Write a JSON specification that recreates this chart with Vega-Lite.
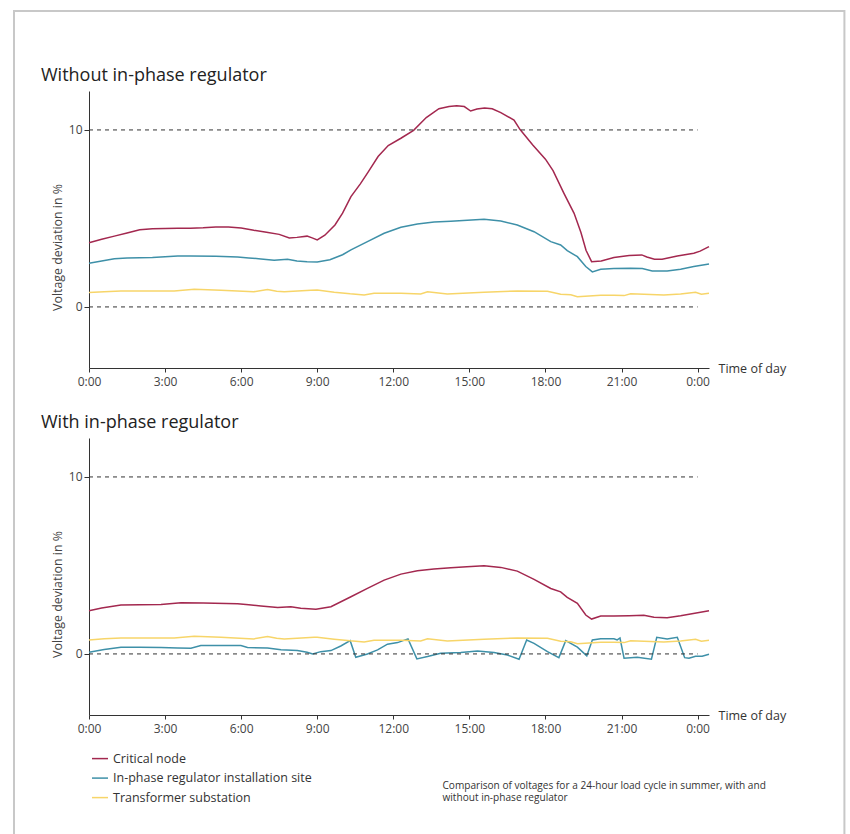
{
  "$schema": "https://vega.github.io/schema/vega-lite/v6.json",
  "padding": {"left": 12, "top": 10, "right": 0, "bottom": 0},
  "background": "white",
  "config": {
    "view": {"stroke": null},
    "font": "Open Sans",
    "axis": {"grid": false, "domainColor": "#333", "tickColor": "#333", "labelColor": "#444", "labelFontSize": 12, "titleFontWeight": "normal"}
  },
  "datasets": {
    "refs": [{"v": 0}, {"v": 10}],
    "volt": [
      {"p":"without","s":"Critical node","h":0,"v":3.63},
      {"p":"without","s":"Critical node","h":0.5,"v":3.82},
      {"p":"without","s":"Critical node","h":1.0,"v":4.0},
      {"p":"without","s":"Critical node","h":1.5,"v":4.18},
      {"p":"without","s":"Critical node","h":2.0,"v":4.36},
      {"p":"without","s":"Critical node","h":2.5,"v":4.42},
      {"p":"without","s":"Critical node","h":3.0,"v":4.43},
      {"p":"without","s":"Critical node","h":3.5,"v":4.44},
      {"p":"without","s":"Critical node","h":4.0,"v":4.44},
      {"p":"without","s":"Critical node","h":4.5,"v":4.47},
      {"p":"without","s":"Critical node","h":5.0,"v":4.52},
      {"p":"without","s":"Critical node","h":5.5,"v":4.52},
      {"p":"without","s":"Critical node","h":6.0,"v":4.46},
      {"p":"without","s":"Critical node","h":6.5,"v":4.33},
      {"p":"without","s":"Critical node","h":7.0,"v":4.22},
      {"p":"without","s":"Critical node","h":7.5,"v":4.1},
      {"p":"without","s":"Critical node","h":7.9,"v":3.9},
      {"p":"without","s":"Critical node","h":8.2,"v":3.93},
      {"p":"without","s":"Critical node","h":8.6,"v":4.0},
      {"p":"without","s":"Critical node","h":8.8,"v":3.9},
      {"p":"without","s":"Critical node","h":9.0,"v":3.79},
      {"p":"without","s":"Critical node","h":9.3,"v":4.05},
      {"p":"without","s":"Critical node","h":9.7,"v":4.63},
      {"p":"without","s":"Critical node","h":10.0,"v":5.3},
      {"p":"without","s":"Critical node","h":10.33,"v":6.23},
      {"p":"without","s":"Critical node","h":10.7,"v":6.95},
      {"p":"without","s":"Critical node","h":11.0,"v":7.6},
      {"p":"without","s":"Critical node","h":11.4,"v":8.5},
      {"p":"without","s":"Critical node","h":11.8,"v":9.12},
      {"p":"without","s":"Critical node","h":12.3,"v":9.53},
      {"p":"without","s":"Critical node","h":12.8,"v":9.98},
      {"p":"without","s":"Critical node","h":13.3,"v":10.7},
      {"p":"without","s":"Critical node","h":13.8,"v":11.2},
      {"p":"without","s":"Critical node","h":14.2,"v":11.33},
      {"p":"without","s":"Critical node","h":14.5,"v":11.36},
      {"p":"without","s":"Critical node","h":14.8,"v":11.32},
      {"p":"without","s":"Critical node","h":15.05,"v":11.07},
      {"p":"without","s":"Critical node","h":15.3,"v":11.18},
      {"p":"without","s":"Critical node","h":15.6,"v":11.24},
      {"p":"without","s":"Critical node","h":15.9,"v":11.2},
      {"p":"without","s":"Critical node","h":16.24,"v":10.98},
      {"p":"without","s":"Critical node","h":16.76,"v":10.56},
      {"p":"without","s":"Critical node","h":17.0,"v":10.02},
      {"p":"without","s":"Critical node","h":17.5,"v":9.15},
      {"p":"without","s":"Critical node","h":18.0,"v":8.35},
      {"p":"without","s":"Critical node","h":18.3,"v":7.7},
      {"p":"without","s":"Critical node","h":18.73,"v":6.42},
      {"p":"without","s":"Critical node","h":19.13,"v":5.29},
      {"p":"without","s":"Critical node","h":19.4,"v":4.2},
      {"p":"without","s":"Critical node","h":19.6,"v":3.2},
      {"p":"without","s":"Critical node","h":19.82,"v":2.56},
      {"p":"without","s":"Critical node","h":20.2,"v":2.6},
      {"p":"without","s":"Critical node","h":20.7,"v":2.79},
      {"p":"without","s":"Critical node","h":21.3,"v":2.9},
      {"p":"without","s":"Critical node","h":21.8,"v":2.94},
      {"p":"without","s":"Critical node","h":22.0,"v":2.82},
      {"p":"without","s":"Critical node","h":22.3,"v":2.69},
      {"p":"without","s":"Critical node","h":22.6,"v":2.69},
      {"p":"without","s":"Critical node","h":23.2,"v":2.88},
      {"p":"without","s":"Critical node","h":23.85,"v":3.03},
      {"p":"without","s":"Critical node","h":24.1,"v":3.15},
      {"p":"without","s":"Critical node","h":24.45,"v":3.41},

      {"p":"without","s":"In-phase regulator installation site","h":0,"v":2.47},
      {"p":"without","s":"In-phase regulator installation site","h":0.5,"v":2.6},
      {"p":"without","s":"In-phase regulator installation site","h":1.0,"v":2.72},
      {"p":"without","s":"In-phase regulator installation site","h":1.5,"v":2.77},
      {"p":"without","s":"In-phase regulator installation site","h":2.0,"v":2.78},
      {"p":"without","s":"In-phase regulator installation site","h":2.5,"v":2.79},
      {"p":"without","s":"In-phase regulator installation site","h":3.0,"v":2.83},
      {"p":"without","s":"In-phase regulator installation site","h":3.5,"v":2.88},
      {"p":"without","s":"In-phase regulator installation site","h":4.0,"v":2.88},
      {"p":"without","s":"In-phase regulator installation site","h":5.0,"v":2.86},
      {"p":"without","s":"In-phase regulator installation site","h":5.86,"v":2.82},
      {"p":"without","s":"In-phase regulator installation site","h":6.3,"v":2.77},
      {"p":"without","s":"In-phase regulator installation site","h":6.78,"v":2.71},
      {"p":"without","s":"In-phase regulator installation site","h":7.3,"v":2.64},
      {"p":"without","s":"In-phase regulator installation site","h":7.83,"v":2.69},
      {"p":"without","s":"In-phase regulator installation site","h":8.2,"v":2.6},
      {"p":"without","s":"In-phase regulator installation site","h":8.6,"v":2.55},
      {"p":"without","s":"In-phase regulator installation site","h":9.0,"v":2.54},
      {"p":"without","s":"In-phase regulator installation site","h":9.5,"v":2.67},
      {"p":"without","s":"In-phase regulator installation site","h":10.0,"v":2.95},
      {"p":"without","s":"In-phase regulator installation site","h":10.33,"v":3.22},
      {"p":"without","s":"In-phase regulator installation site","h":10.98,"v":3.69},
      {"p":"without","s":"In-phase regulator installation site","h":11.64,"v":4.16},
      {"p":"without","s":"In-phase regulator installation site","h":12.3,"v":4.5},
      {"p":"without","s":"In-phase regulator installation site","h":12.95,"v":4.69},
      {"p":"without","s":"In-phase regulator installation site","h":13.61,"v":4.8},
      {"p":"without","s":"In-phase regulator installation site","h":14.27,"v":4.84},
      {"p":"without","s":"In-phase regulator installation site","h":14.92,"v":4.9},
      {"p":"without","s":"In-phase regulator installation site","h":15.58,"v":4.95},
      {"p":"without","s":"In-phase regulator installation site","h":16.24,"v":4.86},
      {"p":"without","s":"In-phase regulator installation site","h":16.89,"v":4.63},
      {"p":"without","s":"In-phase regulator installation site","h":17.55,"v":4.25},
      {"p":"without","s":"In-phase regulator installation site","h":18.21,"v":3.69},
      {"p":"without","s":"In-phase regulator installation site","h":18.6,"v":3.5},
      {"p":"without","s":"In-phase regulator installation site","h":18.86,"v":3.18},
      {"p":"without","s":"In-phase regulator installation site","h":19.26,"v":2.84},
      {"p":"without","s":"In-phase regulator installation site","h":19.59,"v":2.28},
      {"p":"without","s":"In-phase regulator installation site","h":19.85,"v":1.98},
      {"p":"without","s":"In-phase regulator installation site","h":20.18,"v":2.13},
      {"p":"without","s":"In-phase regulator installation site","h":20.7,"v":2.17},
      {"p":"without","s":"In-phase regulator installation site","h":21.36,"v":2.19},
      {"p":"without","s":"In-phase regulator installation site","h":21.82,"v":2.17},
      {"p":"without","s":"In-phase regulator installation site","h":22.21,"v":2.03},
      {"p":"without","s":"In-phase regulator installation site","h":22.8,"v":2.03},
      {"p":"without","s":"In-phase regulator installation site","h":23.33,"v":2.13},
      {"p":"without","s":"In-phase regulator installation site","h":23.85,"v":2.28},
      {"p":"without","s":"In-phase regulator installation site","h":24.45,"v":2.43},

      {"p":"without","s":"Transformer substation","h":0,"v":0.81},
      {"p":"without","s":"Transformer substation","h":0.6,"v":0.86},
      {"p":"without","s":"Transformer substation","h":1.26,"v":0.9},
      {"p":"without","s":"Transformer substation","h":2.5,"v":0.9},
      {"p":"without","s":"Transformer substation","h":3.36,"v":0.9},
      {"p":"without","s":"Transformer substation","h":4.15,"v":1.0},
      {"p":"without","s":"Transformer substation","h":5.2,"v":0.94},
      {"p":"without","s":"Transformer substation","h":6.5,"v":0.86},
      {"p":"without","s":"Transformer substation","h":7.04,"v":0.98},
      {"p":"without","s":"Transformer substation","h":7.4,"v":0.88},
      {"p":"without","s":"Transformer substation","h":7.7,"v":0.86},
      {"p":"without","s":"Transformer substation","h":8.75,"v":0.94},
      {"p":"without","s":"Transformer substation","h":9.0,"v":0.95},
      {"p":"without","s":"Transformer substation","h":9.67,"v":0.83},
      {"p":"without","s":"Transformer substation","h":10.3,"v":0.74},
      {"p":"without","s":"Transformer substation","h":10.85,"v":0.68},
      {"p":"without","s":"Transformer substation","h":11.24,"v":0.77},
      {"p":"without","s":"Transformer substation","h":12.3,"v":0.77},
      {"p":"without","s":"Transformer substation","h":13.08,"v":0.73},
      {"p":"without","s":"Transformer substation","h":13.35,"v":0.86},
      {"p":"without","s":"Transformer substation","h":14.13,"v":0.73},
      {"p":"without","s":"Transformer substation","h":15.58,"v":0.83},
      {"p":"without","s":"Transformer substation","h":16.89,"v":0.9},
      {"p":"without","s":"Transformer substation","h":18.08,"v":0.89},
      {"p":"without","s":"Transformer substation","h":18.6,"v":0.72},
      {"p":"without","s":"Transformer substation","h":19.0,"v":0.69},
      {"p":"without","s":"Transformer substation","h":19.26,"v":0.58},
      {"p":"without","s":"Transformer substation","h":20.18,"v":0.66},
      {"p":"without","s":"Transformer substation","h":20.7,"v":0.66},
      {"p":"without","s":"Transformer substation","h":21.1,"v":0.64},
      {"p":"without","s":"Transformer substation","h":21.36,"v":0.75},
      {"p":"without","s":"Transformer substation","h":22.67,"v":0.68},
      {"p":"without","s":"Transformer substation","h":23.33,"v":0.73},
      {"p":"without","s":"Transformer substation","h":23.92,"v":0.83},
      {"p":"without","s":"Transformer substation","h":24.15,"v":0.72},
      {"p":"without","s":"Transformer substation","h":24.45,"v":0.77},

      {"p":"with","s":"Critical node","h":0,"v":2.44},
      {"p":"with","s":"Critical node","h":0.5,"v":2.6},
      {"p":"with","s":"Critical node","h":1.26,"v":2.76},
      {"p":"with","s":"Critical node","h":2.0,"v":2.78},
      {"p":"with","s":"Critical node","h":2.84,"v":2.8},
      {"p":"with","s":"Critical node","h":3.63,"v":2.89},
      {"p":"with","s":"Critical node","h":4.5,"v":2.88},
      {"p":"with","s":"Critical node","h":5.86,"v":2.84},
      {"p":"with","s":"Critical node","h":6.3,"v":2.78},
      {"p":"with","s":"Critical node","h":6.78,"v":2.71},
      {"p":"with","s":"Critical node","h":7.44,"v":2.63},
      {"p":"with","s":"Critical node","h":7.96,"v":2.67},
      {"p":"with","s":"Critical node","h":8.35,"v":2.58},
      {"p":"with","s":"Critical node","h":8.95,"v":2.52},
      {"p":"with","s":"Critical node","h":9.54,"v":2.67},
      {"p":"with","s":"Critical node","h":10.33,"v":3.23},
      {"p":"with","s":"Critical node","h":10.98,"v":3.7},
      {"p":"with","s":"Critical node","h":11.64,"v":4.17},
      {"p":"with","s":"Critical node","h":12.3,"v":4.51},
      {"p":"with","s":"Critical node","h":12.95,"v":4.7},
      {"p":"with","s":"Critical node","h":13.6,"v":4.8},
      {"p":"with","s":"Critical node","h":14.27,"v":4.87},
      {"p":"with","s":"Critical node","h":14.9,"v":4.92},
      {"p":"with","s":"Critical node","h":15.58,"v":4.98},
      {"p":"with","s":"Critical node","h":16.24,"v":4.89},
      {"p":"with","s":"Critical node","h":16.89,"v":4.68},
      {"p":"with","s":"Critical node","h":17.55,"v":4.21},
      {"p":"with","s":"Critical node","h":18.21,"v":3.7},
      {"p":"with","s":"Critical node","h":18.6,"v":3.51},
      {"p":"with","s":"Critical node","h":18.86,"v":3.2},
      {"p":"with","s":"Critical node","h":19.26,"v":2.86},
      {"p":"with","s":"Critical node","h":19.59,"v":2.2},
      {"p":"with","s":"Critical node","h":19.82,"v":1.97},
      {"p":"with","s":"Critical node","h":20.18,"v":2.14},
      {"p":"with","s":"Critical node","h":20.7,"v":2.14},
      {"p":"with","s":"Critical node","h":21.3,"v":2.16},
      {"p":"with","s":"Critical node","h":21.88,"v":2.18},
      {"p":"with","s":"Critical node","h":22.28,"v":2.07},
      {"p":"with","s":"Critical node","h":22.8,"v":2.05},
      {"p":"with","s":"Critical node","h":23.33,"v":2.16},
      {"p":"with","s":"Critical node","h":24.45,"v":2.44},

      {"p":"with","s":"In-phase regulator installation site","h":0,"v":0.1},
      {"p":"with","s":"In-phase regulator installation site","h":0.6,"v":0.25},
      {"p":"with","s":"In-phase regulator installation site","h":1.26,"v":0.38},
      {"p":"with","s":"In-phase regulator installation site","h":2.0,"v":0.38},
      {"p":"with","s":"In-phase regulator installation site","h":2.84,"v":0.36},
      {"p":"with","s":"In-phase regulator installation site","h":3.5,"v":0.33},
      {"p":"with","s":"In-phase regulator installation site","h":4.02,"v":0.32},
      {"p":"with","s":"In-phase regulator installation site","h":4.41,"v":0.47},
      {"p":"with","s":"In-phase regulator installation site","h":5.2,"v":0.47},
      {"p":"with","s":"In-phase regulator installation site","h":5.99,"v":0.47},
      {"p":"with","s":"In-phase regulator installation site","h":6.25,"v":0.36},
      {"p":"with","s":"In-phase regulator installation site","h":7.04,"v":0.34},
      {"p":"with","s":"In-phase regulator installation site","h":7.57,"v":0.23},
      {"p":"with","s":"In-phase regulator installation site","h":8.22,"v":0.19},
      {"p":"with","s":"In-phase regulator installation site","h":8.6,"v":0.1},
      {"p":"with","s":"In-phase regulator installation site","h":8.82,"v":0.0},
      {"p":"with","s":"In-phase regulator installation site","h":9.14,"v":0.13},
      {"p":"with","s":"In-phase regulator installation site","h":9.54,"v":0.19},
      {"p":"with","s":"In-phase regulator installation site","h":9.93,"v":0.45},
      {"p":"with","s":"In-phase regulator installation site","h":10.3,"v":0.75},
      {"p":"with","s":"In-phase regulator installation site","h":10.52,"v":-0.19},
      {"p":"with","s":"In-phase regulator installation site","h":10.98,"v":0.0},
      {"p":"with","s":"In-phase regulator installation site","h":11.38,"v":0.23},
      {"p":"with","s":"In-phase regulator installation site","h":11.77,"v":0.55},
      {"p":"with","s":"In-phase regulator installation site","h":12.17,"v":0.64},
      {"p":"with","s":"In-phase regulator installation site","h":12.58,"v":0.85},
      {"p":"with","s":"In-phase regulator installation site","h":12.93,"v":-0.28},
      {"p":"with","s":"In-phase regulator installation site","h":13.35,"v":-0.15},
      {"p":"with","s":"In-phase regulator installation site","h":13.87,"v":0.04},
      {"p":"with","s":"In-phase regulator installation site","h":14.66,"v":0.08},
      {"p":"with","s":"In-phase regulator installation site","h":15.32,"v":0.17},
      {"p":"with","s":"In-phase regulator installation site","h":15.97,"v":0.08},
      {"p":"with","s":"In-phase regulator installation site","h":16.5,"v":-0.06},
      {"p":"with","s":"In-phase regulator installation site","h":16.96,"v":-0.3},
      {"p":"with","s":"In-phase regulator installation site","h":17.26,"v":0.79},
      {"p":"with","s":"In-phase regulator installation site","h":17.55,"v":0.6},
      {"p":"with","s":"In-phase regulator installation site","h":18.08,"v":0.13},
      {"p":"with","s":"In-phase regulator installation site","h":18.53,"v":-0.21},
      {"p":"with","s":"In-phase regulator installation site","h":18.8,"v":0.75},
      {"p":"with","s":"In-phase regulator installation site","h":19.26,"v":0.38},
      {"p":"with","s":"In-phase regulator installation site","h":19.63,"v":-0.11},
      {"p":"with","s":"In-phase regulator installation site","h":19.85,"v":0.79},
      {"p":"with","s":"In-phase regulator installation site","h":20.18,"v":0.86},
      {"p":"with","s":"In-phase regulator installation site","h":20.7,"v":0.86},
      {"p":"with","s":"In-phase regulator installation site","h":20.83,"v":0.79},
      {"p":"with","s":"In-phase regulator installation site","h":20.94,"v":0.9},
      {"p":"with","s":"In-phase regulator installation site","h":21.1,"v":-0.24},
      {"p":"with","s":"In-phase regulator installation site","h":21.62,"v":-0.19},
      {"p":"with","s":"In-phase regulator installation site","h":22.18,"v":-0.3},
      {"p":"with","s":"In-phase regulator installation site","h":22.39,"v":0.94},
      {"p":"with","s":"In-phase regulator installation site","h":22.8,"v":0.85},
      {"p":"with","s":"In-phase regulator installation site","h":23.2,"v":0.94},
      {"p":"with","s":"In-phase regulator installation site","h":23.49,"v":-0.21},
      {"p":"with","s":"In-phase regulator installation site","h":23.66,"v":-0.24},
      {"p":"with","s":"In-phase regulator installation site","h":23.92,"v":-0.13},
      {"p":"with","s":"In-phase regulator installation site","h":24.18,"v":-0.13},
      {"p":"with","s":"In-phase regulator installation site","h":24.45,"v":-0.02},

      {"p":"with","s":"Transformer substation","h":0,"v":0.79},
      {"p":"with","s":"Transformer substation","h":0.6,"v":0.86},
      {"p":"with","s":"Transformer substation","h":1.26,"v":0.9},
      {"p":"with","s":"Transformer substation","h":2.5,"v":0.9},
      {"p":"with","s":"Transformer substation","h":3.36,"v":0.9},
      {"p":"with","s":"Transformer substation","h":4.15,"v":1.0},
      {"p":"with","s":"Transformer substation","h":5.2,"v":0.94},
      {"p":"with","s":"Transformer substation","h":6.5,"v":0.85},
      {"p":"with","s":"Transformer substation","h":7.04,"v":0.98},
      {"p":"with","s":"Transformer substation","h":7.4,"v":0.88},
      {"p":"with","s":"Transformer substation","h":7.7,"v":0.85},
      {"p":"with","s":"Transformer substation","h":8.88,"v":0.94},
      {"p":"with","s":"Transformer substation","h":9.0,"v":0.94},
      {"p":"with","s":"Transformer substation","h":9.67,"v":0.83},
      {"p":"with","s":"Transformer substation","h":10.3,"v":0.74},
      {"p":"with","s":"Transformer substation","h":10.85,"v":0.68},
      {"p":"with","s":"Transformer substation","h":11.24,"v":0.77},
      {"p":"with","s":"Transformer substation","h":12.3,"v":0.77},
      {"p":"with","s":"Transformer substation","h":13.08,"v":0.73},
      {"p":"with","s":"Transformer substation","h":13.35,"v":0.86},
      {"p":"with","s":"Transformer substation","h":14.13,"v":0.73},
      {"p":"with","s":"Transformer substation","h":15.58,"v":0.83},
      {"p":"with","s":"Transformer substation","h":16.89,"v":0.9},
      {"p":"with","s":"Transformer substation","h":18.08,"v":0.89},
      {"p":"with","s":"Transformer substation","h":18.6,"v":0.72},
      {"p":"with","s":"Transformer substation","h":19.0,"v":0.69},
      {"p":"with","s":"Transformer substation","h":19.26,"v":0.58},
      {"p":"with","s":"Transformer substation","h":20.18,"v":0.66},
      {"p":"with","s":"Transformer substation","h":20.7,"v":0.66},
      {"p":"with","s":"Transformer substation","h":21.1,"v":0.64},
      {"p":"with","s":"Transformer substation","h":21.36,"v":0.75},
      {"p":"with","s":"Transformer substation","h":22.67,"v":0.68},
      {"p":"with","s":"Transformer substation","h":23.33,"v":0.73},
      {"p":"with","s":"Transformer substation","h":23.92,"v":0.83},
      {"p":"with","s":"Transformer substation","h":24.15,"v":0.72},
      {"p":"with","s":"Transformer substation","h":24.45,"v":0.77}
    ]
  },
  "vconcat": [
    {
      "width": 620, "height": 277,
      "title": {"text": "Without in-phase regulator", "anchor": "start", "frame": "group", "dx": -48, "offset": 6, "fontSize": 18, "fontWeight": "normal", "color": "#222", "font": "Open Sans"},
      "layer": [
        {
          "data": {"name": "volt"},
          "transform": [{"filter": "datum.p == 'without'"}],
          "mark": {"type": "line", "strokeWidth": 1.5},
          "encoding": {
            "x": {"field": "h", "type": "quantitative", "scale": {"domain": [0, 24.45], "zero": false, "nice": false},
              "axis": {"title": "Time of day", "values": [0, 3, 6, 9, 12, 15, 18, 21, 24], "labelExpr": "(datum.value % 24) + ':00'", "labelFlush": false, "labelOverlap": false, "tickSize": 4, "labelPadding": 4, "titleX": 629, "titleY": 0, "titleAlign": "left", "titleBaseline": "middle", "titleFontSize": 12.5, "titleColor": "#333"}},
            "y": {"field": "v", "type": "quantitative", "scale": {"domain": [-3.45, 12.2], "zero": false, "nice": false},
              "axis": {"title": "Voltage deviation in %", "values": [0, 10], "tickSize": 5, "labelPadding": 2, "titleFontSize": 12.4, "titleColor": "#444", "titleY": 156, "titlePadding": 4}},
            "color": {"field": "s", "type": "nominal",
              "scale": {"domain": ["Critical node", "In-phase regulator installation site", "Transformer substation"], "range": ["#a3284f", "#3e90a8", "#f7d569"]},
              "legend": null}
          }
        },
        {
          "data": {"name": "refs"},
          "mark": {"type": "rule", "strokeDash": [4, 4], "color": "#333", "strokeWidth": 1},
          "encoding": {
            "y": {"field": "v", "type": "quantitative"},
            "x": {"datum": 0, "type": "quantitative"},
            "x2": {"datum": 24}
          }
        }
      ]
    },
    {
      "width": 620, "height": 277,
      "title": {"text": "With in-phase regulator", "anchor": "start", "frame": "group", "dx": -48, "offset": 6, "fontSize": 18, "fontWeight": "normal", "color": "#222", "font": "Open Sans"},
      "layer": [
        {
          "data": {"name": "volt"},
          "transform": [{"filter": "datum.p == 'with'"}],
          "mark": {"type": "line", "strokeWidth": 1.5},
          "encoding": {
            "x": {"field": "h", "type": "quantitative", "scale": {"domain": [0, 24.45], "zero": false, "nice": false},
              "axis": {"title": "Time of day", "values": [0, 3, 6, 9, 12, 15, 18, 21, 24], "labelExpr": "(datum.value % 24) + ':00'", "labelFlush": false, "labelOverlap": false, "tickSize": 4, "labelPadding": 4, "titleX": 629, "titleY": 0, "titleAlign": "left", "titleBaseline": "middle", "titleFontSize": 12.5, "titleColor": "#333"}},
            "y": {"field": "v", "type": "quantitative", "scale": {"domain": [-3.45, 12.2], "zero": false, "nice": false},
              "axis": {"title": "Voltage deviation in %", "values": [0, 10], "tickSize": 5, "labelPadding": 2, "titleFontSize": 12.4, "titleColor": "#444", "titleY": 156, "titlePadding": 4}},
            "color": {"field": "s", "type": "nominal",
              "scale": {"domain": ["Critical node", "In-phase regulator installation site", "Transformer substation"], "range": ["#a3284f", "#3e90a8", "#f7d569"]},
              "legend": {"orient": "none", "legendX": 2, "legendY": 311.6, "title": null, "direction": "vertical", "padding": 0, "symbolType": "stroke", "symbolSize": 256, "symbolStrokeWidth": 1.5, "labelFontSize": 12.5, "labelColor": "#333", "labelFont": "Open Sans", "labelLimit": 400, "rowPadding": 3.5, "labelOffset": 4}}
          }
        },
        {
          "data": {"name": "refs"},
          "mark": {"type": "rule", "strokeDash": [4, 4], "color": "#333", "strokeWidth": 1},
          "encoding": {
            "y": {"field": "v", "type": "quantitative"},
            "x": {"datum": 0, "type": "quantitative"},
            "x2": {"datum": 24}
          }
        }
      ]
    },
    {
      "width": 620, "height": 40,
      "layer": [
        {
          "data": {"values": [{"caption": ["Comparison of voltages for a 24-hour load cycle in summer, with and", "without in-phase regulator"]}]},
          "mark": {"type": "text", "clip": false, "align": "left", "baseline": "top", "fontSize": 10.1, "font": "Open Sans", "lineHeight": 12.5, "color": "#333"},
          "encoding": {
            "x": {"datum": 13.94, "type": "quantitative", "scale": {"domain": [0, 24.45], "zero": false, "nice": false}, "axis": null},
            "y": {"datum": -7.15, "type": "quantitative", "scale": {"domain": [-9.66, -7.40], "zero": false, "nice": false}, "axis": null},
            "text": {"field": "caption"}
          }
        },
        {
          "data": {"values": [{"frame": "border"}]},
          "mark": {"type": "rect", "clip": false, "filled": false, "color": "#c8c8c8", "strokeWidth": 2},
          "encoding": {
            "x": {"datum": -2.958, "type": "quantitative"},
            "x2": {"datum": 29.79},
            "y": {"datum": 36.33, "type": "quantitative"},
            "y2": {"datum": -12.77}
          }
        }
      ]
    }
  ],
  "spacing": 70,
  "bounds": "flush",
  "resolve": {"scale": {"color": "independent", "x": "independent", "y": "independent"}}
}
